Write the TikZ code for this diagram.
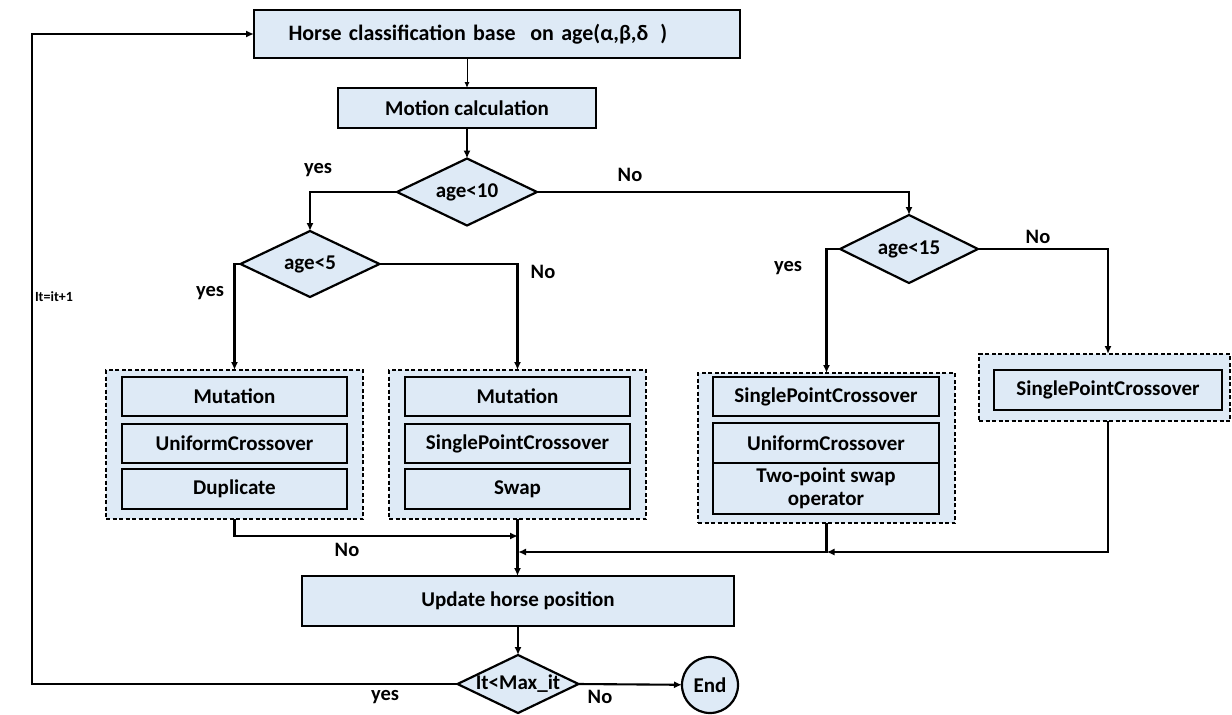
\documentclass[tikz,border=0pt]{standalone}
\usepackage{fontspec}
\setmainfont{Carlito}
\usetikzlibrary{arrows.meta,shapes.geometric}
\definecolor{fillblue}{HTML}{DEEAF6}
\begin{document}
\begin{tikzpicture}[x=1pt,y=-1pt,
  font=\fontsize{21}{23}\selectfont\bfseries,
  every node/.style={inner sep=0pt, outer sep=0pt},
  box/.style={draw, line width=2.3pt, fill=fillblue},
  opbox/.style={draw, line width=2.7pt, fill=fillblue, minimum width=225pt, minimum height=39pt},
  group/.style={draw, line width=1.8pt, dash pattern=on 4pt off 2.5pt, fill=fillblue},
  dia/.style={draw, diamond, line width=2.2pt, fill=fillblue, minimum width=140pt, minimum height=67pt},
  conn/.style={line width=2.1pt, -{Latex[length=8pt,width=7pt]}},
  lab/.style={font=\fontsize{20.5}{22}\selectfont\bfseries}
]
\useasboundingbox (0,0) rectangle (1232,715);

% main boxes
\node[box, minimum width=486pt, minimum height=48pt, text width=451pt, align=left, inner xsep=0pt, font=\fontsize{22}{24}\selectfont\bfseries] (top) at (497,34) {\hspace*{17pt}Horse classification base\ \ on age(α,β,δ\hspace{12pt})};
\node[box, minimum width=258pt, minimum height=40pt] (mot) at (467,108) {Motion calculation};

% decisions
\node[dia, label={center:age<10}] (d1) at (467,192) {};
\node[dia, minimum width=139pt, minimum height=66pt, label={center:age<5}] (d2) at (310,264) {};
\node[dia, minimum width=138pt, minimum height=68pt, label={center:age<15}] (d3) at (909,249) {};

% group 1
\node[group, minimum width=257pt, minimum height=149pt] (b1) at (234.5,444.5) {};
\node[opbox] (b1a) at (234.5,396.5) {Mutation};
\node[opbox] (b1b) at (234.5,443.5) {UniformCrossover};
\node[opbox, minimum height=40pt] (b1c) at (234.5,489) {Duplicate};

% group 2
\node[group, minimum width=257pt, minimum height=149pt] (b2) at (517.5,444.5) {};
\node[opbox] (b2a) at (517.5,396.5) {Mutation};
\node[opbox] (b2b) at (517.5,443.5) {SinglePointCrossover};
\node[opbox, minimum height=40pt] (b2c) at (517.5,489) {Swap};

% group 3
\node[group, minimum width=257pt, minimum height=150pt] (b3) at (826.5,448) {};
\node[opbox, minimum width=226pt] (b3a) at (826,396.5) {SinglePointCrossover};
\node[opbox, minimum width=226pt, minimum height=40pt] (b3b) at (826,443) {UniformCrossover};
\node[opbox, minimum width=226pt, minimum height=51pt, align=center] (b3c) at (826,488.5) {Two-point swap\\operator};

% group 4
\node[group, minimum width=251pt, minimum height=67pt] (b4) at (1104.5,387.5) {};
\node[opbox, minimum width=228pt, minimum height=40pt] (b4a) at (1108,390) {SinglePointCrossover};

% update, loop test, end
\node[box, minimum width=432pt, minimum height=50pt] (upd) at (518,601) {Update horse position};
\node[dia, minimum width=121pt, minimum height=58pt, label={center:It<Max\_it}] (d4) at (518,684) {};
\node[draw, circle, line width=2.2pt, fill=fillblue, minimum size=56pt] (end) at (710,685) {End};

% helper coordinates
\coordinate (j1) at (518,536);
\coordinate (j2) at (518,552);
\coordinate (j3) at (826.5,552);
\coordinate (lp) at (32,0);

% connectors
\draw[line width=1pt, -{Latex[length=6pt,width=5pt]}] (top.south -| mot.north) -- (mot.north);
\draw[conn] (mot) -- (d1);
\draw[conn] (d1.west) -| (d2.north);
\draw[conn] (d1.east) -| (d3.north);
\draw[conn] (d2.west) -| (b1.north);
\draw[conn] (d2.east) -| (b2.north);
\draw[conn] (d3.west) -| (b3.north);
\draw[conn] (d3.east) -| (b4a.north |- b4.north);
\draw[conn] (b1.south) |- (j1);
\draw[conn] (b2.south) -- (b2.south |- upd.north);
\draw[conn] (b3.south) |- (j2);
\draw[conn] (b4a.south |- b4.south) |- (j3);
\draw[conn] (upd) -- (d4);
\draw[conn] (d4.east) -- (end);
\draw[conn] (d4.west) -- (d4.west -| lp) -- (top.west -| lp) -- (top.west);

% labels
\node[lab] (l1) at (318,170) {yes};
\node[lab] (l2) at (630,175) {No};
\node[lab] (l3) at (210,293) {yes};
\node[lab] (l4) at (543,272) {No};
\node[lab] (l5) at (788,268) {yes};
\node[lab] (l6) at (1038,237) {No};
\node[lab] (l7) at (347,550) {No};
\node[lab] (l8) at (385,697) {yes};
\node[lab] (l9) at (600,697) {No};
\node[font=\fontsize{14}{16}\selectfont\bfseries, anchor=west] (it) at (35,297) {It=it+1};
\end{tikzpicture}
\end{document}
